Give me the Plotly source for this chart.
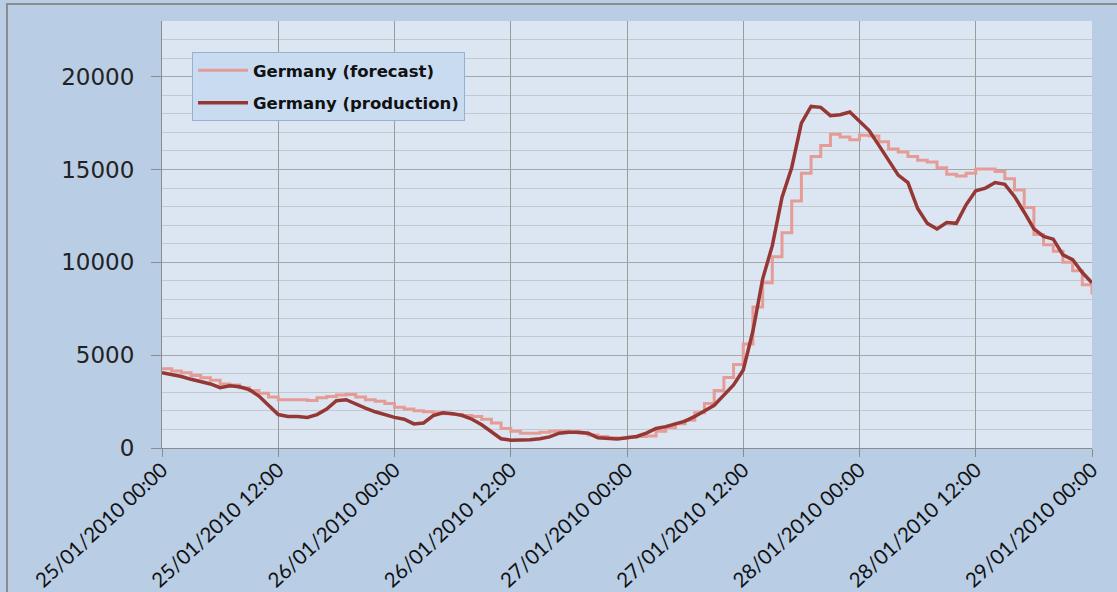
import pandas as pd
import plotly.graph_objects as go

# hourly samples, 25/01/2010 00:00 -> 29/01/2010 00:00
start = "2010-01-25 00:00"
n_hours = 97

forecast = [
    4270, 4150, 4050, 3900, 3780, 3650, 3450, 3400, 3250, 3100,
    2950, 2750, 2600, 2600, 2600, 2560, 2700, 2780, 2850, 2880,
    2750, 2600, 2520, 2400, 2200, 2100, 2000, 1950, 1900, 1850,
    1800, 1750, 1700, 1550, 1350, 1050, 900, 800, 800, 850,
    900, 900, 850, 800, 700, 620, 550, 530, 580, 620,
    650, 900, 1100, 1300, 1500, 1900, 2400, 3100, 3800, 4500,
    5600, 7600, 8900, 10300, 11600, 13300, 14800, 15700, 16300, 16900,
    16750, 16600, 16850, 16800, 16500, 16100, 15950, 15700, 15500, 15400,
    15100, 14750, 14650, 14800, 15030, 15030, 14900, 14500, 13900, 12950,
    11500, 10950, 10600, 10000, 9550, 8800, 8270,
]

production = [
    4050, 3950, 3850, 3700, 3580, 3450, 3250, 3350, 3300, 3150,
    2800, 2300, 1800, 1700, 1700, 1650, 1800, 2100, 2550, 2600,
    2350, 2150, 1950, 1800, 1650, 1550, 1300, 1350, 1750, 1900,
    1850, 1750, 1550, 1250, 900, 500, 420, 430, 450, 500,
    600, 800, 850, 850, 800, 550, 500, 480, 550, 620,
    800, 1050, 1150, 1300, 1450, 1700, 2000, 2300, 2850, 3400,
    4200, 6300, 9100, 10900, 13500, 15100, 17500, 18400, 18350, 17900,
    17950, 18100, 17600, 17100, 16300, 15500, 14700, 14300, 12900, 12100,
    11800, 12150, 12100, 13100, 13850, 14000, 14300, 14200, 13550, 12700,
    11800, 11400, 11250, 10400, 10150, 9450, 8900,
]

times = pd.date_range(start, periods=n_hours, freq="h")

fig = go.Figure()
fig.add_trace(go.Scatter(
    x=times, y=forecast, mode="lines", name="Germany (forecast)",
    legendgroup="forecast",
    line=dict(color="#e59c96", width=3, shape="hv"),
))
fig.add_trace(go.Scatter(
    x=times, y=production, mode="lines", name="Germany (production)",
    legendgroup="production",
    line=dict(color="#953735", width=3.5),
))

# plot area in pixels: 162..1092 x 21..448
L, R, T, B = 162, 25, 21, 144
W, H = 1117, 592
pw, ph = W - L - R, H - T - B

fig.update_layout(
    width=W, height=H,
    margin=dict(l=L, r=R, t=T, b=B, autoexpand=False),
    paper_bgcolor="#b9cde5",
    plot_bgcolor="#dce6f2",
    showlegend=True,
    legend=dict(
        x=(192 - L) / pw, y=(H - B - 52) / ph, xanchor="left", yanchor="top",
        bgcolor="#c8dbf1", bordercolor="#97b0cf", borderwidth=1,
        font=dict(family="DejaVu Sans", size=16.5, color="#111111", weight="bold"),
        itemwidth=50, tracegroupgap=8,
    ),
    xaxis=dict(
        type="date",
        range=["2010-01-25 00:00", "2010-01-29 00:00"],
        dtick=12 * 3600 * 1000, tick0="2010-01-25 00:00",
        tickformat="%d/%m/%Y %H:%M", tickangle=-43,
        tickfont=dict(family="Lato", size=20.5, color="#111111"),
        showgrid=True, gridcolor="#9a9a9a", gridwidth=1,
        showline=True, linecolor="#8c8c8c", linewidth=1,
        ticks="outside", ticklen=8, tickcolor="#8c8c8c",
        ticklabelstandoff=-7,
        zeroline=False, automargin=False,
    ),
    yaxis=dict(
        range=[0, 23000],
        tickvals=[0, 5000, 10000, 15000, 20000],
        tickformat="d",
        tickfont=dict(family="DejaVu Sans", size=23, color="#222222"),
        showgrid=True, gridcolor="#a4a6a9", gridwidth=1,
        minor=dict(dtick=1000, showgrid=True, gridcolor="#c4c7cb", gridwidth=1),
        showline=True, linecolor="#8c8c8c", linewidth=1,
        ticks="outside", ticklen=10, tickcolor="#8c8c8c",
        ticklabelstandoff=12,
        zeroline=False, automargin=False,
    ),
)

# outer chart border (left and top edges visible)
fig.add_shape(
    type="rect", xref="paper", yref="paper",
    x0=(7 - L) / pw, x1=(W + 20 - L) / pw,
    y0=-(B + 20) / ph, y1=(H - B - 4) / ph,
    line=dict(color="#8c8c8c", width=2), fillcolor="rgba(0,0,0,0)",
    layer="below",
)

fig.write_html("out.html", config={"displayModeBar": False},
               post_script="document.body.style.margin='0';")
